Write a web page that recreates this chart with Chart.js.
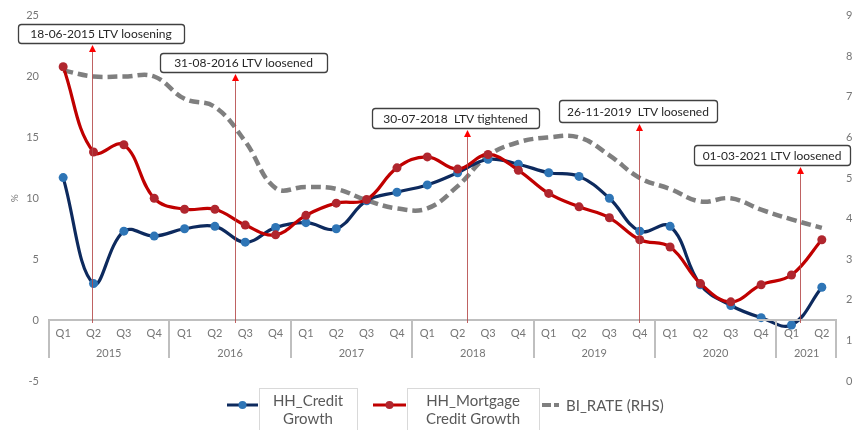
<!DOCTYPE html>
<html>
<head>
<meta charset="utf-8">
<script src="https://cdn.jsdelivr.net/npm/chart.js@4/dist/chart.umd.min.js"></script>
<style>
  html, body { margin: 0; padding: 0; background: #ffffff; }
  #wrap { width: 858px; height: 430px; }
</style>
</head>
<body>
<div id="wrap"><canvas id="c" width="858" height="430"></canvas></div>
<script>
// ---- Data ----
const quarters = ['Q1','Q2','Q3','Q4','Q1','Q2','Q3','Q4','Q1','Q2','Q3','Q4','Q1','Q2','Q3','Q4',
                  'Q1','Q2','Q3','Q4','Q1','Q2','Q3','Q4','Q1','Q2'];
const years = ['2015','2016','2017','2018','2019','2020','2021'];
const quartersPerYear = [4,4,4,4,4,4,2];

const hhCreditGrowth = [11.7, 3.0, 7.3, 6.9, 7.5, 7.7, 6.4, 7.6, 8.0, 7.5, 9.8, 10.5, 11.1,
                        12.1, 13.2, 12.8, 12.1, 11.8, 10.0, 7.3, 7.7, 2.9, 1.2, 0.2, -0.4, 2.7];
const hhMortgageGrowth = [20.8, 13.8, 14.4, 10.0, 9.1, 9.1, 7.8, 7.0, 8.6, 9.6, 9.9, 12.5, 13.4,
                          12.4, 13.6, 12.3, 10.4, 9.3, 8.4, 6.6, 6.0, 3.0, 1.5, 2.9, 3.7, 6.6];
const biRate = [7.65, 7.5, 7.5, 7.5, 6.95, 6.75, 5.9, 4.75, 4.78, 4.73, 4.45, 4.25, 4.25,
                4.8, 5.55, 5.88, 6.0, 6.0, 5.56, 5.0, 4.73, 4.42, 4.5, 4.22, 3.98, 3.77];

const leftTicks = { min: -5, max: 25, step: 5 };
const rightTicks = { min: 0, max: 9, step: 1 };

// Policy events: label and fractional quarter index of the event date
const eventLabels = ['18-06-2015 LTV loosening', '31-08-2016 LTV loosened', '30-07-2018  LTV tightened',
                     '26-11-2019  LTV loosened', '01-03-2021 LTV loosened'];
const eventIndex = [0.95, 5.65, 13.32, 18.98, 24.27];

const seriesNames = ['HH_Credit Growth', 'HH_Mortgage Credit Growth', 'BI_RATE (RHS)'];

// ---- Styling / layout of overlays (not data) ----
const FONT = 'Lato, "Liberation Sans", sans-serif';
const eventBoxes = [ // centre x, top y, width, height (pixels)
  { cx: 101, top: 24, w: 166, h: 19 },
  { cx: 243.5, top: 53, w: 167, h: 19 },
  { cx: 455.5, top: 108, w: 167, h: 20 },
  { cx: 638, top: 100, w: 158, h: 22 },
  { cx: 772, top: 145, w: 156, h: 20 }
];

const overlayPlugin = {
  id: 'overlay',
  afterDatasetsDraw(chart) {
    const ctx = chart.ctx;
    const xs = chart.scales.x;
    const yl = chart.scales.y;
    const area = chart.chartArea;
    const axisY = Math.round(yl.getPixelForValue(0));
    ctx.save();
    // category axis line
    ctx.strokeStyle = '#bfbfbf';
    ctx.lineWidth = 2;
    ctx.beginPath();
    ctx.moveTo(area.left, axisY);
    ctx.lineTo(area.right, axisY);
    ctx.stroke();
    // year group separators + labels
    let idx = 0;
    const bounds = [idx];
    quartersPerYear.forEach(n => { idx += n; bounds.push(idx); });
    ctx.lineWidth = 2;
    bounds.forEach(b => {
      let x = Math.round(xs.getPixelForValue(b - 0.5));
      if (b === 0) x += 1;
      if (b === bounds[bounds.length - 1]) x -= 1;
      ctx.beginPath();
      ctx.moveTo(x, axisY);
      ctx.lineTo(x, axisY + 38);
      ctx.stroke();
    });
    ctx.fillStyle = '#767676';
    ctx.font = '11px ' + FONT;
    ctx.textAlign = 'center';
    ctx.textBaseline = 'middle';
    for (let i = 0; i < years.length; i++) {
      const xa = xs.getPixelForValue(bounds[i] - 0.5);
      const xb = xs.getPixelForValue(bounds[i + 1] - 0.5);
      ctx.fillText(years[i], (xa + xb) / 2, axisY + 33);
    }
    // event annotations
    eventLabels.forEach((label, i) => {
      const bx = eventBoxes[i];
      const x = Math.round(xs.getPixelForValue(eventIndex[i])) + 0.5;
      const tipY = bx.top + bx.h + 2;
      ctx.strokeStyle = 'rgba(180,70,70,0.85)';
      ctx.lineWidth = 1;
      ctx.beginPath();
      ctx.moveTo(x, axisY + 3);
      ctx.lineTo(x, tipY + 6);
      ctx.stroke();
      ctx.fillStyle = '#ff0000';
      ctx.beginPath();
      ctx.moveTo(x, tipY);
      ctx.lineTo(x - 3.5, tipY + 7);
      ctx.lineTo(x + 3.5, tipY + 7);
      ctx.closePath();
      ctx.fill();
      // box
      const l = bx.cx - bx.w / 2;
      ctx.fillStyle = '#ffffff';
      ctx.strokeStyle = '#404040';
      ctx.lineWidth = 1.3;
      ctx.beginPath();
      ctx.roundRect(l + 0.5, bx.top + 0.5, bx.w, bx.h, 3);
      ctx.fill();
      ctx.stroke();
      ctx.fillStyle = '#262626';
      ctx.font = '12px ' + FONT;
      ctx.textAlign = 'center';
      ctx.textBaseline = 'middle';
      ctx.fillText(label, bx.cx, bx.top + bx.h / 2 + 1);
    });
    ctx.restore();
  },
  afterDraw(chart) {
    const ctx = chart.ctx;
    const ds = chart.data.datasets;
    ctx.save();
    const ly = 405;
    // legend item 1
    const drawLineSample = (x0, x1, d) => {
      ctx.strokeStyle = d.borderColor;
      ctx.lineWidth = 3;
      ctx.setLineDash([]);
      ctx.beginPath();
      ctx.moveTo(x0, ly);
      ctx.lineTo(x1, ly);
      ctx.stroke();
      ctx.fillStyle = d.pointBackgroundColor;
      ctx.beginPath();
      ctx.arc((x0 + x1) / 2, ly, 4, 0, Math.PI * 2);
      ctx.fill();
    };
    const drawBoxText = (l, r, lines) => {
      ctx.strokeStyle = '#d9d9d9';
      ctx.lineWidth = 1;
      ctx.strokeRect(l + 0.5, 388.5, r - l, 44);
      ctx.fillStyle = '#595959';
      ctx.font = '15px ' + FONT;
      ctx.textAlign = 'center';
      ctx.textBaseline = 'middle';
      ctx.fillText(lines[0], (l + r) / 2, 401);
      ctx.fillText(lines[1], (l + r) / 2, 419);
    };
    drawLineSample(227, 258, ds[0]);
    drawBoxText(259, 357, ['HH_Credit', 'Growth']);
    drawLineSample(373, 406, ds[1]);
    drawBoxText(407, 539, ['HH_Mortgage', 'Credit Growth']);
    // dashed sample
    ctx.strokeStyle = ds[2].borderColor;
    ctx.lineWidth = 4;
    ctx.setLineDash([9, 3, 5, 100]);
    ctx.beginPath();
    ctx.moveTo(542, ly);
    ctx.lineTo(564, ly);
    ctx.stroke();
    ctx.setLineDash([]);
    ctx.fillStyle = '#595959';
    ctx.font = '15px ' + FONT;
    ctx.textAlign = 'left';
    ctx.textBaseline = 'middle';
    ctx.fillText('BI_RATE (RHS)', 566, ly + 1);
    ctx.restore();
  }
};

const bgPlugin = {
  id: 'bg',
  beforeDraw(chart) {
    const ctx = chart.ctx;
    ctx.save();
    ctx.fillStyle = '#ffffff';
    ctx.fillRect(0, 0, chart.width, chart.height);
    ctx.restore();
  }
};

new Chart(document.getElementById('c'), {
  type: 'line',
  data: {
    labels: quarters,
    datasets: [
      {
        label: seriesNames[0],
        data: hhCreditGrowth,
        yAxisID: 'y',
        borderColor: '#0d2a5e',
        backgroundColor: '#2e75b6',
        pointBackgroundColor: '#2e75b6',
        pointBorderColor: '#2e75b6',
        pointRadius: 4.5,
        pointBorderWidth: 0,
        borderWidth: 3.2,
        tension: 0.4,
        order: 1
      },
      {
        label: seriesNames[1],
        data: hhMortgageGrowth,
        yAxisID: 'y',
        borderColor: '#c00000',
        backgroundColor: '#b0262e',
        pointBackgroundColor: '#b0262e',
        pointBorderColor: '#b0262e',
        pointRadius: 4.5,
        pointBorderWidth: 0,
        borderWidth: 3.2,
        tension: 0.4,
        order: 0
      },
      {
        label: seriesNames[2],
        data: biRate,
        yAxisID: 'y1',
        borderColor: '#7f7f7f',
        backgroundColor: '#7f7f7f',
        pointRadius: 0,
        borderWidth: 4.5,
        borderDash: [10, 5],
        tension: 0.4,
        order: 2
      }
    ]
  },
  options: {
    responsive: false,
    animation: false,
    devicePixelRatio: 1,
    layout: { padding: { top: 12, bottom: 49, left: 0, right: 0 } },
    plugins: {
      legend: { display: false },
      tooltip: { enabled: false }
    },
    scales: {
      x: {
        type: 'category',
        position: { y: 0 },
        offset: true,
        grid: { display: false, drawTicks: false },
        border: { display: false },
        ticks: { color: '#767676', font: { family: FONT, size: 11 }, padding: 7, maxRotation: 0, autoSkip: false }
      },
      y: {
        position: 'left',
        min: leftTicks.min,
        max: leftTicks.max,
        ticks: { stepSize: leftTicks.step, color: '#767676', font: { family: FONT, size: 11 }, padding: 9 },
        grid: { display: false, drawTicks: false },
        border: { display: false },
        title: { display: true, text: '%', color: '#767676', font: { family: FONT, size: 10 }, padding: { top: 9, bottom: 0 } },
        afterFit(s) { s.width = 48; }
      },
      y1: {
        position: 'right',
        min: rightTicks.min,
        max: rightTicks.max,
        ticks: { stepSize: rightTicks.step, color: '#767676', font: { family: FONT, size: 11 }, padding: 9 },
        grid: { display: false, drawTicks: false },
        border: { display: false },
        afterFit(s) { s.width = 21; }
      }
    }
  },
  plugins: [bgPlugin, overlayPlugin]
});
</script>
</body>
</html>
